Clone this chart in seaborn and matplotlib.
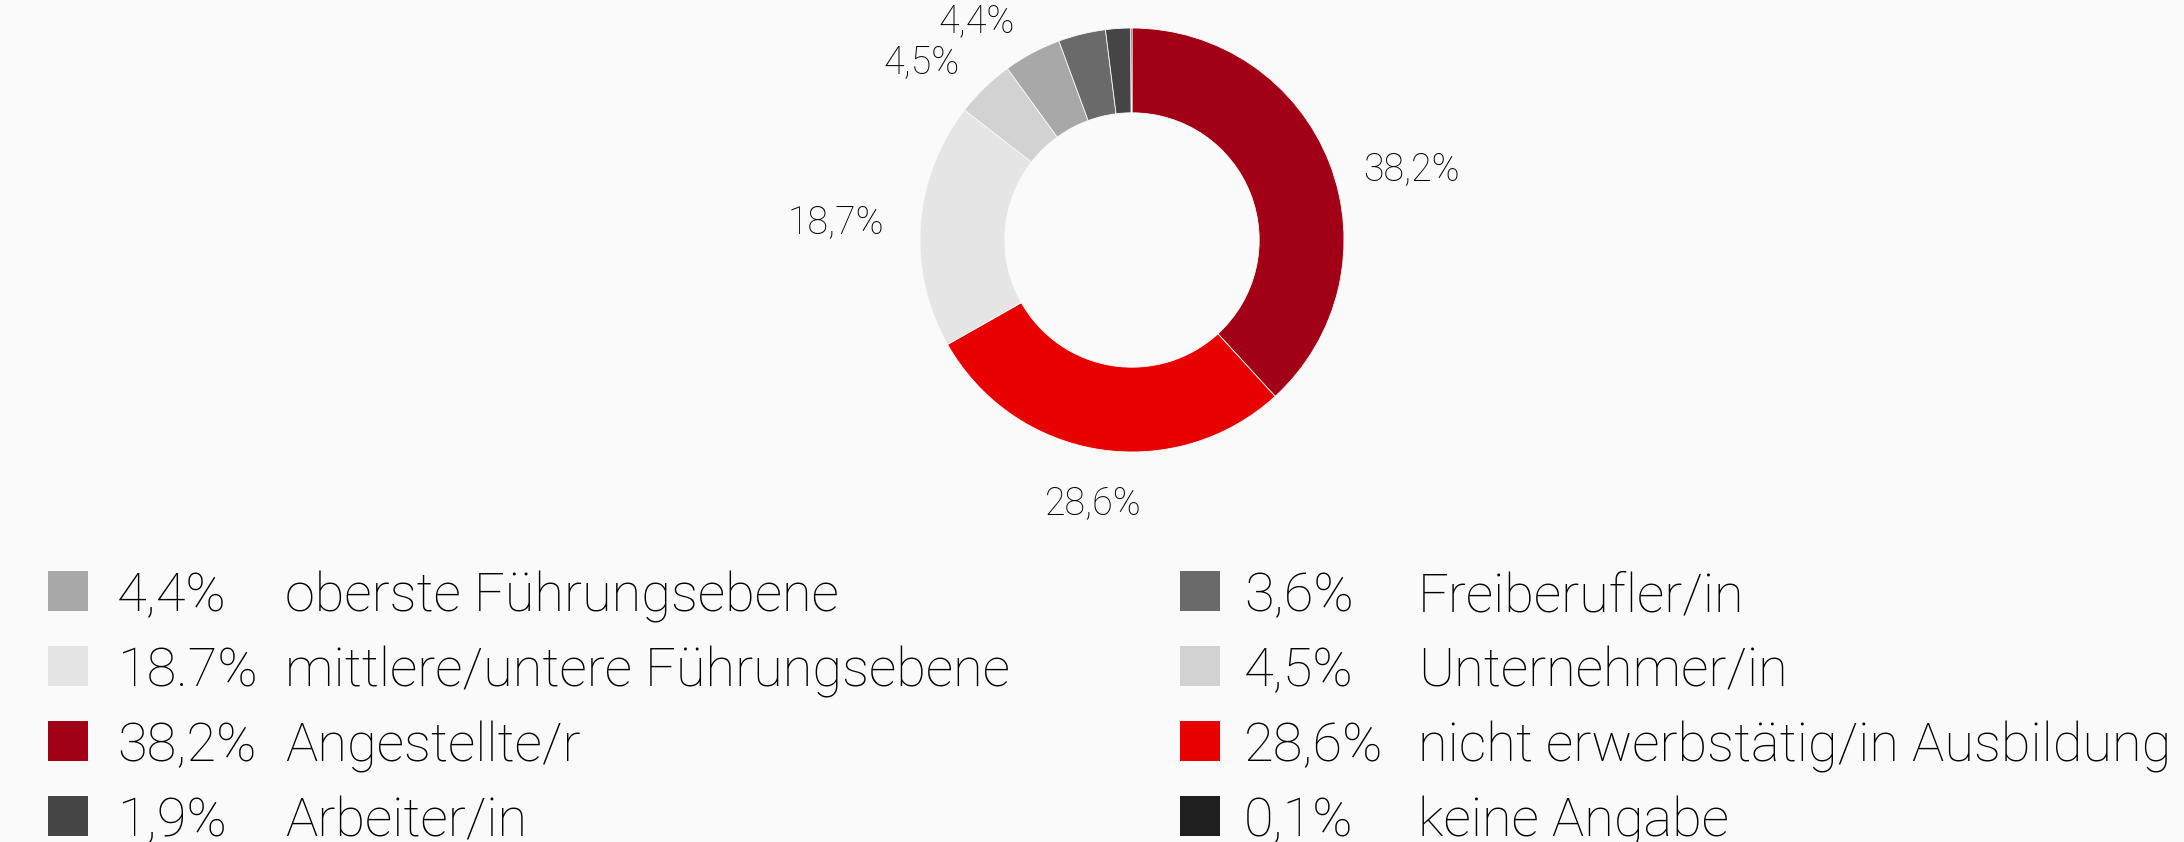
import matplotlib
matplotlib.use('Agg')
import matplotlib.pyplot as plt
import seaborn as sns
import numpy as np
from matplotlib.patches import Rectangle

# Daten (Reihenfolge im Ring, im Uhrzeigersinn ab 12 Uhr)
categories = ['Angestellte/r', 'nicht erwerbstätig/in Ausbildung',
              'mittlere/untere Führungsebene', 'Unternehmer/in',
              'oberste Führungsebene', 'Freiberufler/in', 'Arbeiter/in',
              'keine Angabe']
values = [38.2, 28.6, 18.7, 4.5, 4.4, 3.6, 1.9, 0.1]
pct_text = ['38,2%', '28,6%', '18.7%', '4,5%', '4,4%', '3,6%', '1,9%', '0,1%']
colors = ['#a10016', '#e80000', '#e5e5e5', '#d2d2d2',
          '#a8a8a8', '#6a6a6a', '#454545', '#202020']

# Legende: linke und rechte Spalte
legend_left = ['oberste Führungsebene', 'mittlere/untere Führungsebene',
               'Angestellte/r', 'Arbeiter/in']
legend_right = ['Freiberufler/in', 'Unternehmer/in',
                'nicht erwerbstätig/in Ausbildung', 'keine Angabe']

BG = '#fafafa'
W, H = 2184, 842

sns.set_theme(style='white')
plt.rcParams['font.family'] = ['Roboto', 'Liberation Sans', 'DejaVu Sans']
plt.rcParams['font.weight'] = 'light'

fig = plt.figure(figsize=(W / 100, H / 100), dpi=100, facecolor=BG)

# Ring
cx, cy, r = 1132, 240, 212
ax = fig.add_axes([(cx - r) / W, (H - cy - r) / H, 2 * r / W, 2 * r / H])
ax.set_facecolor(BG)
wedges, _ = ax.pie(values, colors=colors, startangle=90, counterclock=False,
                   radius=1, wedgeprops=dict(width=0.4, edgecolor=BG, linewidth=0.6))
ax.set_xlim(-1, 1)
ax.set_ylim(-1, 1)
ax.set_aspect('equal')
ax.axis('off')

# Prozent-Beschriftungen für größere Segmente
for w, v, t in zip(wedges, values, pct_text):
    if v < 4:
        continue
    ang = np.deg2rad((w.theta1 + w.theta2) / 2)
    c, s = np.cos(ang), np.sin(ang)
    d = 1.17
    if c > 0.3:
        ha, va = 'left', 'top'
    elif c < -0.3:
        ha, va = 'right', 'center'
    else:
        ha, va = 'center', 'top'
    ax.text(d * c, d * s, t.replace('.', ','), ha=ha, va=va, fontsize=27,
            color='#000000')

# Legende
lax = fig.add_axes([0, 0, 1, 1])
lax.set_xlim(0, W)
lax.set_ylim(H, 0)
lax.axis('off')

row_y = [591, 666, 741, 816]
cols = [(48, 117, 285, legend_left), (1180, 1244, 1418, legend_right)]
for sq_x, pct_x, lab_x, names in cols:
    for y, name in zip(row_y, names):
        i = categories.index(name)
        lax.add_patch(Rectangle((sq_x, y - 20), 40, 40, color=colors[i], lw=0))
        lax.text(pct_x, y, pct_text[i], ha='left', va='center_baseline',
                 fontsize=39, color='#000000')
        lax.text(lab_x, y, name, ha='left', va='center_baseline',
                 fontsize=39, color='#000000')

fig.savefig('out.png', dpi=100, facecolor=BG)
plt.close(fig)
